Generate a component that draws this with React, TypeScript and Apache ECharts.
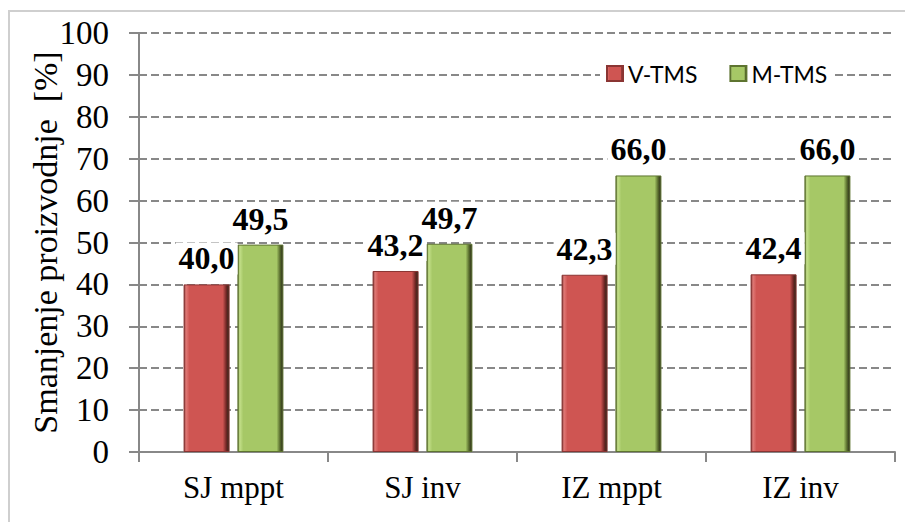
import React, { useEffect, useRef } from "react";
import * as echarts from "echarts";

const categories = ["SJ mppt", "SJ inv", "IZ mppt", "IZ inv"];
const vTms = [40.0, 43.2, 42.3, 42.4];
const mTms = [49.5, 49.7, 66.0, 66.0];
const seriesNames = ["V-TMS", "M-TMS"];
const yAxisName = "Smanjenje proizvodnje  [%]";

const SERIF = "'Liberation Serif', 'DejaVu Serif', serif";
const SANS = "Lato, 'Liberation Sans', sans-serif";

function bevel(light: string, base: string, dark: string) {
  return new echarts.graphic.LinearGradient(0, 0, 1, 0, [
    { offset: 0, color: dark },
    { offset: 0.04, color: light },
    { offset: 0.12, color: base },
    { offset: 0.86, color: base },
    { offset: 0.94, color: dark },
    { offset: 1, color: "#2a2a1a" },
  ]);
}

export default function App() {
  const ref = useRef<HTMLDivElement>(null);
  useEffect(() => {
    if (!ref.current) return;
    const chart = echarts.init(ref.current, undefined, { renderer: "svg" });
    const fmt = (p: any) => Number(p.value).toFixed(1).replace(".", ",");
    const labelStyle = {
      show: true,
      position: "top" as const,
      distance: 10,
      formatter: fmt,
      fontFamily: SERIF,
      fontWeight: "bold" as const,
      fontSize: 32,
      color: "#000",
      backgroundColor: "#fff",
      padding: [0, 3, 0, 3],
    };
    chart.setOption({
      animation: false,
      backgroundColor: "#fff",
      graphic: [
        {
          type: "rect",
          shape: { x: 9, y: 11, width: 910, height: 518 },
          style: { fill: "none", stroke: "#cfcfcf", lineWidth: 2 },
          silent: true,
        },
      ],
      grid: { left: 139, right: 18, top: 33, bottom: 78, containLabel: false },
      legend: {
        data: seriesNames,
        left: 600,
        top: 60,
        itemWidth: 16,
        itemHeight: 15,
        itemGap: 32,
        padding: [2, 6, 2, 6],
        backgroundColor: "#fff",
        icon: "rect",
        textStyle: { fontFamily: SANS, fontSize: 23, color: "#000" },
      },
      xAxis: {
        type: "category",
        data: categories,
        axisLine: { lineStyle: { color: "#888", width: 2 } },
        axisTick: { show: true, length: 10, lineStyle: { color: "#888", width: 2 } },
        axisLabel: { fontFamily: SERIF, fontSize: 31, color: "#000", margin: 20 },
      },
      yAxis: {
        type: "value",
        min: 0,
        max: 100,
        interval: 10,
        name: yAxisName,
        nameLocation: "middle",
        nameGap: 77,
        nameMoveOverlap: false,
        nameRotate: 90,
        nameTextStyle: { fontFamily: SERIF, fontSize: 34, color: "#000" },
        axisLine: { show: true, lineStyle: { color: "#888", width: 2 } },
        axisTick: { show: true, length: 10, lineStyle: { color: "#888", width: 2 } },
        axisLabel: { fontFamily: SERIF, fontSize: 33, color: "#000", margin: 30 },
        splitLine: { lineStyle: { color: "#888", width: 2, type: [8, 4] } },
      },
      series: [
        {
          name: seriesNames[0],
          type: "bar",
          data: vTms,
          barWidth: 46,
          barGap: "17%",
          itemStyle: {
            color: bevel("#e07a77", "#cf5552", "#6e2624"),
            borderColor: "#8a3533",
            borderWidth: 1,
          },
          label: labelStyle,
        },
        {
          name: seriesNames[1],
          type: "bar",
          data: mTms,
          barWidth: 46,
          itemStyle: {
            color: bevel("#c4e08a", "#a6c866", "#53662a"),
            borderColor: "#5e7430",
            borderWidth: 1,
          },
          label: labelStyle,
        },
      ],
    });
    return () => chart.dispose();
  }, []);
  return <div ref={ref} style={{ width: 913, height: 530, margin: -8 }} />;
}
